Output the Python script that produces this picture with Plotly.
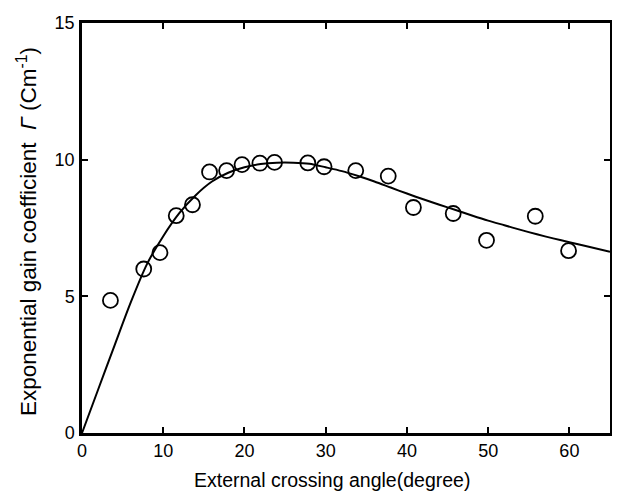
import plotly.graph_objects as go

# measured data points (open circles)
angle_pts = [3.5, 7.6, 9.6, 11.6, 13.6, 15.7, 17.8, 19.7, 21.9, 23.7, 27.8, 29.8, 33.7, 37.7, 40.8, 45.7, 49.8, 55.8, 59.9]
gain_pts = [4.85, 6.0, 6.6, 7.95, 8.35, 9.55, 9.6, 9.82, 9.87, 9.9, 9.88, 9.74, 9.6, 9.4, 8.25, 8.03, 7.05, 7.93, 6.67]

# theoretical curve
angle_fit = [0, 2, 4, 6, 8, 10, 12, 14, 16, 18, 20, 22, 24, 26, 28, 30, 32, 34, 36, 38, 40,
             42, 44, 46, 48, 50, 52, 54, 56, 58, 60, 62, 65]
gain_fit = [0, 1.6, 3.2, 4.78, 6.18, 7.2, 8.05, 8.7, 9.2, 9.52, 9.72, 9.84, 9.89, 9.89, 9.85, 9.72, 9.58,
            9.4, 9.2, 8.98, 8.76, 8.55, 8.35, 8.16, 7.96, 7.77, 7.6, 7.43, 7.27, 7.12, 6.98, 6.84, 6.63]

x_ticks = [0, 10, 20, 30, 40, 50, 60]
y_ticks = [0, 5, 10, 15]

x_title = "External crossing angle(degree)"
y_title = "Exponential gain coefficient&nbsp;&nbsp;<i>Γ</i>&nbsp;(Cm<sup>-1</sup>)"

font_family = "Liberation Sans, Arial, sans-serif"

fig = go.Figure()
fig.add_trace(go.Scatter(x=angle_fit, y=gain_fit, mode="lines",
                         line=dict(color="black", width=2, shape="spline", smoothing=0.8),
                         showlegend=False, hoverinfo="skip"))
fig.add_trace(go.Scatter(x=angle_pts, y=gain_pts, mode="markers",
                         marker=dict(symbol="circle-open", size=15, color="black",
                                     line=dict(width=1.8, color="black")),
                         showlegend=False))

axis_common = dict(showgrid=False, zeroline=False, showline=True, linecolor="black",
                   linewidth=2.5, mirror="ticks", ticks="inside", ticklen=6, tickwidth=2,
                   tickcolor="black", automargin=False,
                   tickfont=dict(size=18, color="black", family=font_family))

# the page body adds an 8px offset, so margins are reduced accordingly
fig.update_layout(
    width=620, height=496,
    margin=dict(l=74, r=18, t=15, b=71),
    plot_bgcolor="white", paper_bgcolor="white",
    font=dict(family=font_family, color="black"),
    xaxis=dict(range=[0, 65], tickvals=x_ticks, ticktext=[str(v) for v in x_ticks],
               **axis_common),
    yaxis=dict(range=[0, 15], tickvals=y_ticks, ticktext=[str(v) for v in y_ticks],
               ticklabelstandoff=1, **axis_common),
    annotations=[
        dict(text=x_title, xref="paper", yref="paper", x=0.4735, y=0, yshift=-47,
             xanchor="center", yanchor="middle", showarrow=False,
             font=dict(size=19.5, color="black", family=font_family)),
        dict(text=y_title, xref="paper", yref="paper", x=0, xshift=-55, y=0.49,
             xanchor="center", yanchor="middle", textangle=-90, showarrow=False,
             font=dict(size=22.5, color="black", family=font_family)),
    ],
)

fig.write_html("out.html")
